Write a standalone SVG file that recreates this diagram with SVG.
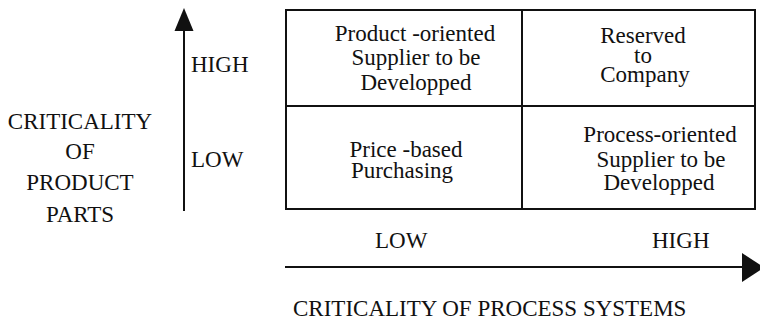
<svg xmlns="http://www.w3.org/2000/svg" width="760" height="320" viewBox="0 0 760 320">
  <style>
    text { font-family: "Liberation Serif", "Times New Roman", serif; font-size: 23px; fill: #111; }
    .mid { text-anchor: middle; }
    .cell { fill: none; stroke: #111; stroke-width: 2; }
    .axis { stroke: #111; stroke-width: 2; fill: none; }
  </style>
  <defs>
    <marker id="headUp" markerUnits="userSpaceOnUse" markerWidth="20" markerHeight="24" refX="10" refY="22" orient="auto-start-reverse" viewBox="0 0 20 24">
      <path d="M10 0 L19.5 22 L0.5 22 Z" fill="#111"/>
    </marker>
  </defs>
  <rect width="760" height="320" fill="#fff"/>

  <!-- axes -->
  <g id="connectors">
    <line class="axis" x1="184" y1="211" x2="184" y2="30"/>
    <path d="M184 8 L193.5 31 L174.5 31 Z" fill="#111"/>
    <line class="axis" x1="285" y1="267" x2="744" y2="267"/>
    <path d="M742 253 L764 267.5 L742 282 Z" fill="#111"/>
  </g>

  <!-- vertical axis title -->
  <g id="y-title">
    <text class="mid" x="80" y="129">CRITICALITY</text>
    <text class="mid" x="80" y="159">OF</text>
    <text class="mid" x="80" y="190">PRODUCT</text>
    <text class="mid" x="80" y="222">PARTS</text>
  </g>
  <g id="y-high"><text x="191" y="72">HIGH</text></g>
  <g id="y-low"><text x="191" y="167">LOW</text></g>

  <!-- matrix -->
  <g id="matrix">
    <rect class="cell" x="286" y="10" width="469" height="199"/>
    <line class="cell" x1="522" y1="10" x2="522" y2="209"/>
    <line class="cell" x1="286" y1="106" x2="755" y2="106"/>
  </g>

  <g id="cell-product-oriented">
    <text class="mid" x="415" y="41">Product -oriented</text>
    <text class="mid" x="416" y="65">Supplier to be</text>
    <text class="mid" x="416" y="90">Developped</text>
  </g>
  <g id="cell-reserved">
    <text class="mid" x="643" y="43">Reserved</text>
    <text class="mid" x="643" y="63">to</text>
    <text class="mid" x="645" y="82">Company</text>
  </g>
  <g id="cell-price-based">
    <text class="mid" x="406" y="157">Price -based</text>
    <text class="mid" x="402" y="178">Purchasing</text>
  </g>
  <g id="cell-process-oriented">
    <text class="mid" x="660" y="142">Process-oriented</text>
    <text class="mid" x="661" y="167">Supplier to be</text>
    <text class="mid" x="659" y="190">Developped</text>
  </g>

  <!-- horizontal axis labels -->
  <g id="x-low"><text x="375" y="248">LOW</text></g>
  <g id="x-high"><text x="652" y="248">HIGH</text></g>
  <g id="x-title"><text x="293" y="316">CRITICALITY OF PROCESS SYSTEMS</text></g>
</svg>
